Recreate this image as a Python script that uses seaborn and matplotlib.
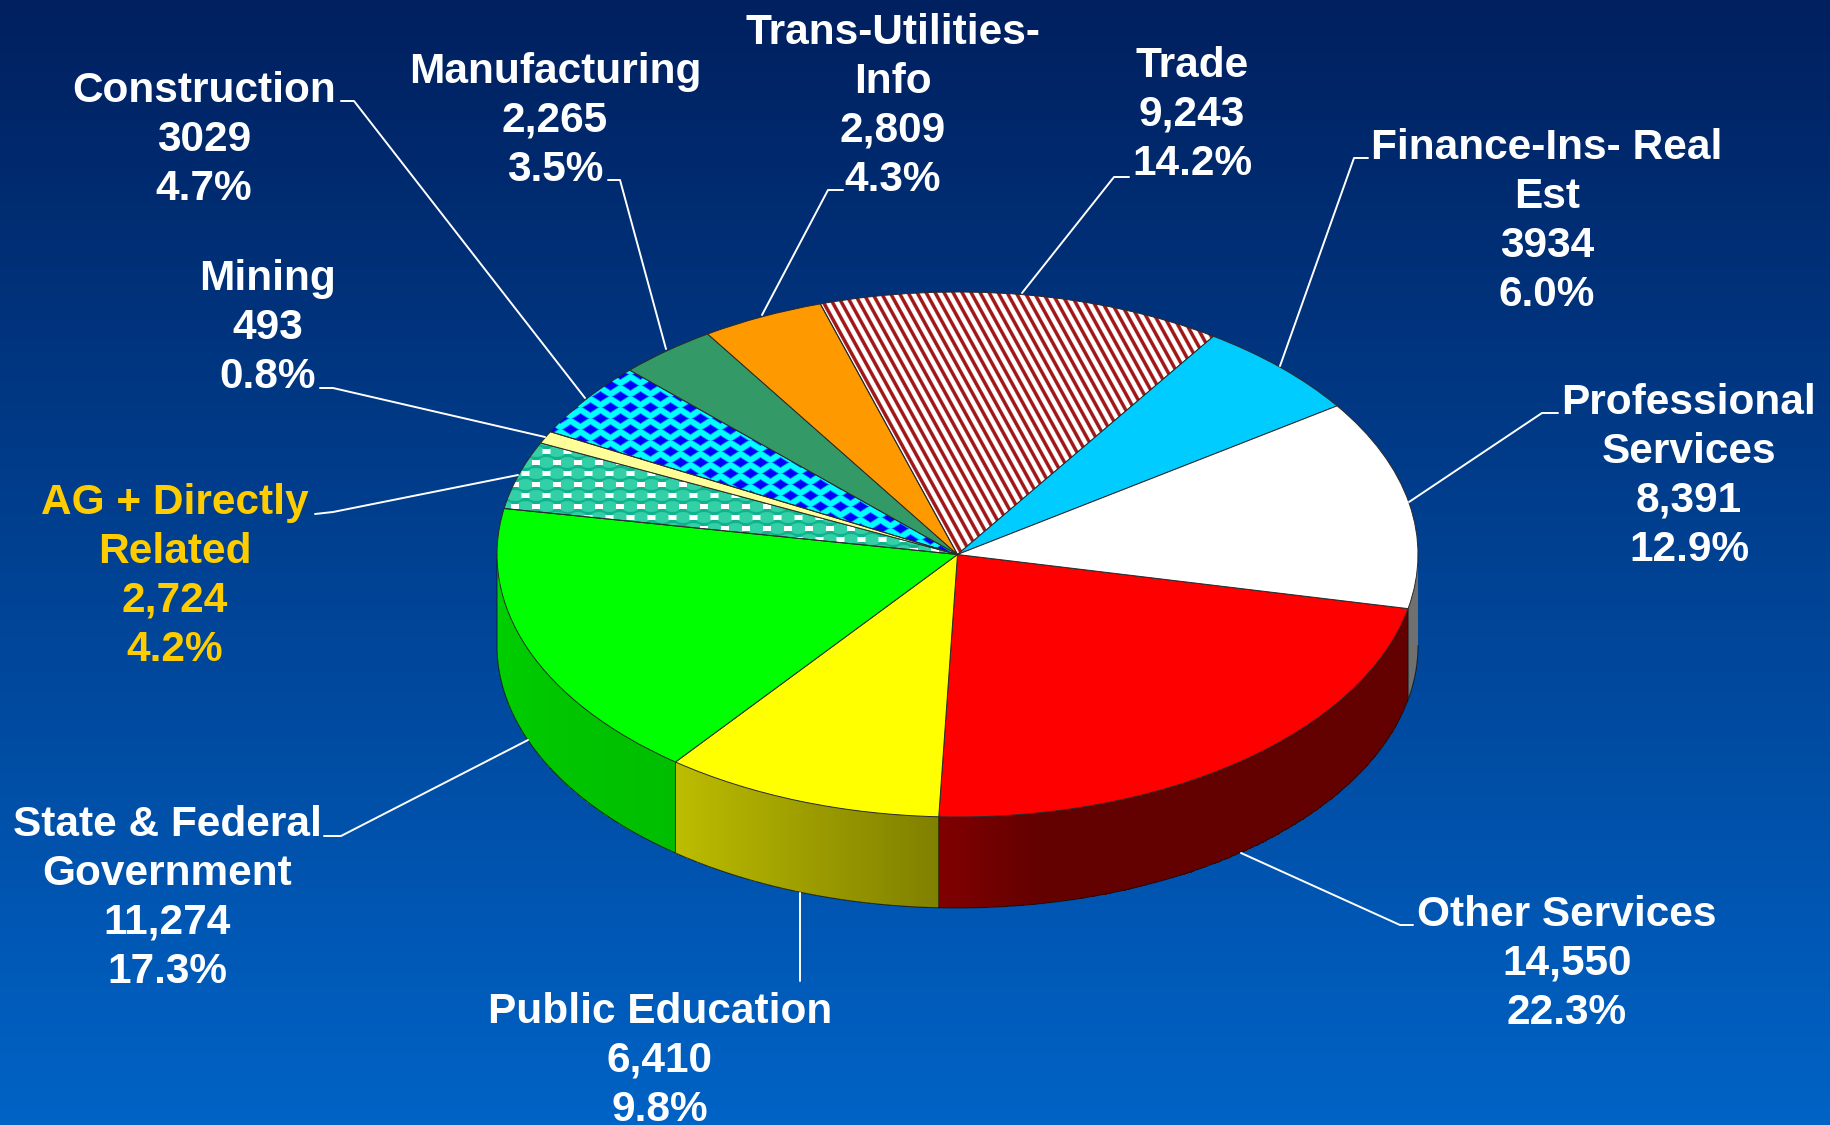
import numpy as np
import matplotlib
matplotlib.use('Agg')
import matplotlib.pyplot as plt
import seaborn as sns

##Data, clockwise from the red slice
names = ['Other Services', 'Public Education', 'State & Federal\nGovernment',
         'AG + Directly\nRelated', 'Mining', 'Construction', 'Manufacturing',
         'Trans-Utilities-\nInfo', 'Trade', 'Finance-Ins- Real\nEst',
         'Professional\nServices']
values = [14550, 6410, 11274, 2724, 493, 3029, 2265, 2809, 9243, 3934, 8391]
value_labels = ['14,550', '6,410', '11,274', '2,724', '493', '3029', '2,265',
                '2,809', '9,243', '3934', '8,391']
pct_labels = ['22.3%', '9.8%', '17.3%', '4.2%', '0.8%', '4.7%', '3.5%',
              '4.3%', '14.2%', '6.0%', '12.9%']
colors = ['#ff0000', '#ffff00', '#00ff00', '#20c090', '#ffff99', '#00ffff',
          '#339966', '#ff9900', '#8b1414', '#00ccff', '#ffffff']

#label position in pixels: centre x, first baseline
label_pos = [(1567, 926), (660, 1023), (167, 836), (175, 514), (268, 290), (204, 102),
             (555, 83), (893, 44), (1192, 77), (1547, 159), (1689, 414)]
#leader lines in pixels, slice end first
leaders = [[(1241, 853), (1400, 925), (1413, 925)],
           [(800, 893), (800, 981)],
           [(528, 740), (341, 836), (324, 836)],
           [(518, 475), (333, 512), (315, 514)],
           [(545, 437), (333, 388), (320, 388)],
           [(585, 398), (354, 101), (341, 101)],
           [(666, 349), (620, 180), (608, 180)],
           [(762, 315), (828, 190), (843, 190)],
           [(1022, 293), (1114, 177), (1129, 177)],
           [(1280, 366), (1354, 158), (1368, 158)],
           [(1409, 502), (1542, 413), (1558, 413)]]

W, H = 1830, 1125
cx, cy, rx, ry, depth = 957.5, 554.5, 460.5, 262.5, 91
start_angle = -11.9
#side wall brightness against angle
shade_angle = [-180, -127.6, -92, -80, -12, -11.9, 0]
shade_level = [0.82, 0.74, 0.50, 0.39, 0.39, 0.44, 0.44]

sns.set_theme(style='white')
plt.rcParams['font.family'] = ['Liberation Sans', 'DejaVu Sans']

fig = plt.figure(figsize=(W / 100, H / 100), dpi=100)
ax = fig.add_axes([0, 0, 1, 1])

#pie in unit circle, the axes limits squash it to an ellipse
wedges, _ = ax.pie(values, colors=colors, startangle=start_angle, counterclock=False,
                   wedgeprops=dict(edgecolor='#2a2a2a', linewidth=0.7, zorder=2))

lims = ((0 - cx) / rx, (W - cx) / rx, (cy - H) / ry, cy / ry)
d = depth / ry

#background gradient
bg_cmap = sns.blend_palette(['#00205f', '#0063c6'], as_cmap=True)
ax.imshow(np.linspace(0, 1, H).reshape(-1, 1), extent=lims, cmap=bg_cmap, aspect='auto',
          origin='upper', zorder=-2)

#fill patterns, in pixels of the picture
py, px = np.mgrid[0:H, 0:W]


def mix(a, c1, c2):
    a = np.clip(a, 0, 1)[..., None]
    return a * np.array(matplotlib.colors.to_rgb(c1)) + (1 - a) * np.array(matplotlib.colors.to_rgb(c2))


def lattice(x, y, pw, ph):
    row = np.round(y / ph)
    dx = (x - row * pw / 2 + pw / 2) % pw - pw / 2
    return dx, y - row * ph


stripes = mix(np.cos(2 * np.pi * (px - 0.55 * py) / 9) * 1.1 + 0.3, '#a01818', '#ffffff')

dx, dy = lattice(px, py, 20, 11)
diamonds = mix((1 - np.abs(dx) / 9.5 - np.abs(dy) / 6) * 3, '#0000ff', '#00ffff')

dx, dy = lattice(px, py, 21, 11)
beads = mix((1 - (dx / 9.5) ** 2 - (dy / 6) ** 2) * 3, '#34d0a8', '#10b48c')
gap = np.clip(np.abs(dx) - 6, 0, 1) * np.clip(3 - np.abs(dy), 0, 1)
beads = beads * (1 - gap[..., None]) + gap[..., None]

for i, pattern in {8: stripes, 5: diamonds, 3: beads}.items():
    im = ax.imshow(pattern, extent=lims, aspect='auto', origin='upper', zorder=1.5)
    im.set_clip_path(wedges[i])
    wedges[i].set_facecolor('none')

#side wall, only the front half shows
for w, c in zip(wedges, colors):
    for shift in (0, 360):
        lo = max(w.theta1 + shift, -180)
        hi = min(w.theta2 + shift, 0)
        if hi <= lo:
            continue
        t = np.linspace(lo, hi, 160)
        x = np.cos(np.radians(t))
        y = np.sin(np.radians(t))
        X = np.vstack([x, x])
        Y = np.vstack([y, y - d])
        tm = (t[:-1] + t[1:]) / 2
        rgb = np.outer(np.interp(tm, shade_angle, shade_level), matplotlib.colors.to_rgb(c))
        ax.pcolormesh(X, Y, rgb[None, :, :], shading='flat', zorder=0.5)
        ax.plot(np.r_[x[0], x[0], x, x[-1]], np.r_[y[0], y[0] - d, y - d, y[-1] - d],
                color='#101010', lw=0.7, alpha=0.8, zorder=0.6)

ax.set_aspect('auto')
ax.set_xlim(lims[0], lims[1])
ax.set_ylim(lims[2], lims[3])
ax.axis('off')

#labels and leader lines on a pixel axes
ax2 = fig.add_axes([0, 0, 1, 1], xlim=(0, W), ylim=(H, 0))
ax2.patch.set_alpha(0)
ax2.axis('off')

for line in leaders:
    ax2.plot([p[0] for p in line], [p[1] for p in line], color='white', lw=1.4,
             solid_joinstyle='round')

for name, val, pct, (tx, ty) in zip(names, value_labels, pct_labels, label_pos):
    col = '#ffcc00' if name.startswith('AG') else 'white'
    for n, txt in enumerate(name.split('\n') + [val, pct]):
        ax2.text(tx, ty + n * 48.9, txt, ha='center', va='baseline', color=col,
                 fontsize=30.5, fontweight='bold')

fig.savefig('out.png', dpi=100)
